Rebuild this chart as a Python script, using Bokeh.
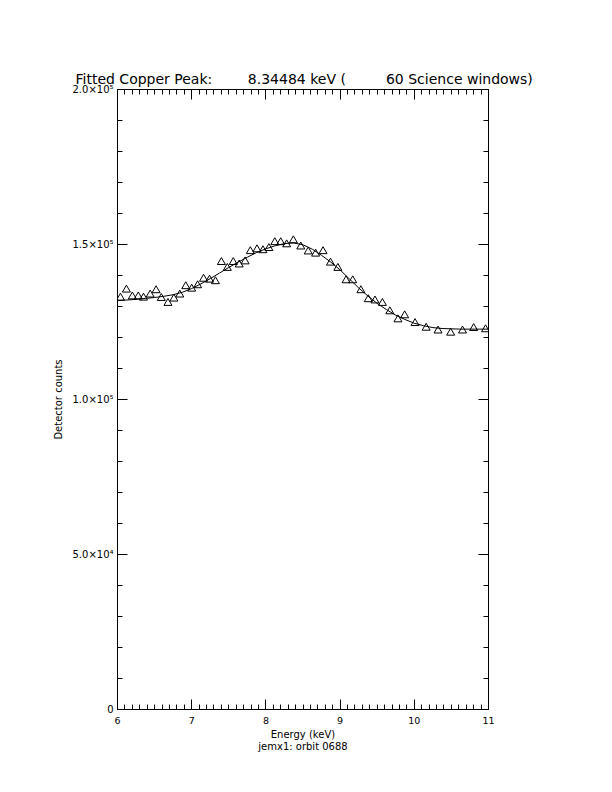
from bokeh.plotting import figure
from bokeh.models import Range1d, LinearAxis, SingleIntervalTicker, Title
from bokeh.embed import file_html
from bokeh.resources import INLINE

# Measured spectrum (energy in keV, detector counts)
energy = [6.04, 6.12, 6.20, 6.28, 6.35, 6.44, 6.52, 6.59, 6.68, 6.76, 6.84, 6.92,
          7.00, 7.08, 7.16, 7.24, 7.32, 7.40, 7.48, 7.56, 7.64, 7.72, 7.79, 7.88,
          7.96, 8.04, 8.12, 8.20, 8.28, 8.37, 8.47, 8.57, 8.67, 8.77, 8.87, 8.97,
          9.08, 9.17, 9.28, 9.38, 9.47, 9.57, 9.67, 9.78, 9.87, 10.01, 10.16, 10.32,
          10.49, 10.65, 10.80, 10.96]
counts = [132800, 135400, 133200, 133200, 132800, 133800, 135200, 132700, 131100, 132500,
          133800, 136500, 135700, 136800, 138900, 138600, 138100, 144300, 142400, 144300,
          143500, 144500, 147800, 148400, 148100, 148800, 150700, 150700, 150000, 151300,
          149300, 147700, 147000, 147800, 144100, 142400, 138400, 138400, 135200, 132300,
          131900, 131100, 128400, 125800, 127100, 124600, 123100, 122200, 121500, 122200,
          123000, 122600]

# Fitted curve
fit_energy = [6.0, 6.125, 6.25, 6.375, 6.5, 6.625, 6.75, 6.875, 7.0, 7.125, 7.25, 7.375,
              7.5, 7.625, 7.75, 7.875, 8.0, 8.125, 8.25, 8.375, 8.5, 8.625, 8.75, 8.875,
              9.0, 9.125, 9.25, 9.375, 9.5, 9.625, 9.75, 9.875, 10.0, 10.125, 10.25,
              10.375, 10.5, 10.625, 10.75, 10.875, 11.0]
fit_counts = [131900, 132100, 132300, 132600, 132900, 133300, 133800, 134600, 135800,
              137300, 139000, 140800, 142600, 144300, 145900, 147400, 148600, 149600,
              150300, 150500, 149900, 148500, 146500, 144300, 141800, 138900, 136000,
              133400, 131000, 129000, 127200, 125800, 124600, 123800, 123200, 122900,
              122800, 122700, 122700, 122700, 122700]

x_ticks = [6, 7, 8, 9, 10, 11]
y_ticks = [0, 50000, 100000, 150000, 200000]
y_tick_labels = ["0", "5.0×10⁴", "1.0×10⁵", "1.5×10⁵", "2.0×10⁵"]

NB = "\u00a0"
title_text = ("Fitted Copper Peak:" + NB * 8 + "8.34484 keV (" + NB * 9
              + "60 Science windows)")
x_label = "Energy (keV)\njemx1: orbit 0688"

FONT = "DejaVu Sans"

p = figure(width=600, height=780, output_backend="svg", toolbar_location=None,
           x_range=Range1d(6, 11), y_range=Range1d(0, 200000),
           x_axis_type=None, y_axis_type=None,
           min_border_left=117, min_border_right=112,
           min_border_top=89, min_border_bottom=71)
p.outline_line_color = "black"
p.outline_line_alpha = 1.0
p.background_fill_color = "white"
p.border_fill_color = "white"


def style(ax):
    ax.axis_line_color = "black"
    ax.major_tick_line_color = "black"
    ax.minor_tick_line_color = "black"
    ax.major_tick_in = 10
    ax.major_tick_out = 0
    ax.minor_tick_in = 5
    ax.minor_tick_out = 0
    ax.major_label_text_font = FONT
    ax.major_label_text_font_size = "9.5px"
    ax.major_label_text_color = "black"
    ax.axis_label_text_font = FONT
    ax.axis_label_text_font_size = "10px"
    ax.axis_label_text_font_style = "normal"
    ax.axis_label_text_color = "black"


xb = LinearAxis(ticker=SingleIntervalTicker(interval=1, num_minor_ticks=10),
                axis_label=x_label)
style(xb)
xb.major_label_standoff = 7
xb.axis_label_standoff = 2
xb.axis_label_text_line_height = 1.1
p.add_layout(xb, "below")

xt = LinearAxis(ticker=SingleIntervalTicker(interval=1, num_minor_ticks=10))
style(xt)
xt.major_label_overrides = {t: "" for t in x_ticks}
xt.major_label_standoff = 0
p.add_layout(xt, "above")

yl = LinearAxis(ticker=SingleIntervalTicker(interval=50000, num_minor_ticks=5),
                axis_label="Detector counts")
style(yl)
yl.major_label_text_font_size = "10px"
yl.major_label_overrides = {t: s for t, s in zip(y_ticks, y_tick_labels)}
yl.major_label_standoff = 4
yl.axis_label_standoff = 5
p.add_layout(yl, "left")

yr = LinearAxis(ticker=SingleIntervalTicker(interval=50000, num_minor_ticks=5))
style(yr)
yr.major_label_overrides = {t: "" for t in y_ticks}
yr.major_label_standoff = 0
p.add_layout(yr, "right")

p.line(fit_energy, fit_counts, line_color="black", line_width=1)
p.scatter(energy, counts, marker="triangle", size=8, fill_color=None,
          line_color="black", line_width=1)

p.add_layout(Title(text=title_text, align="left", offset=-42, standoff=5,
                   text_font=FONT, text_font_size="14px", text_font_style="normal",
                   text_color="black"), "above")

open("out.html", "w").write(file_html(p, INLINE))
